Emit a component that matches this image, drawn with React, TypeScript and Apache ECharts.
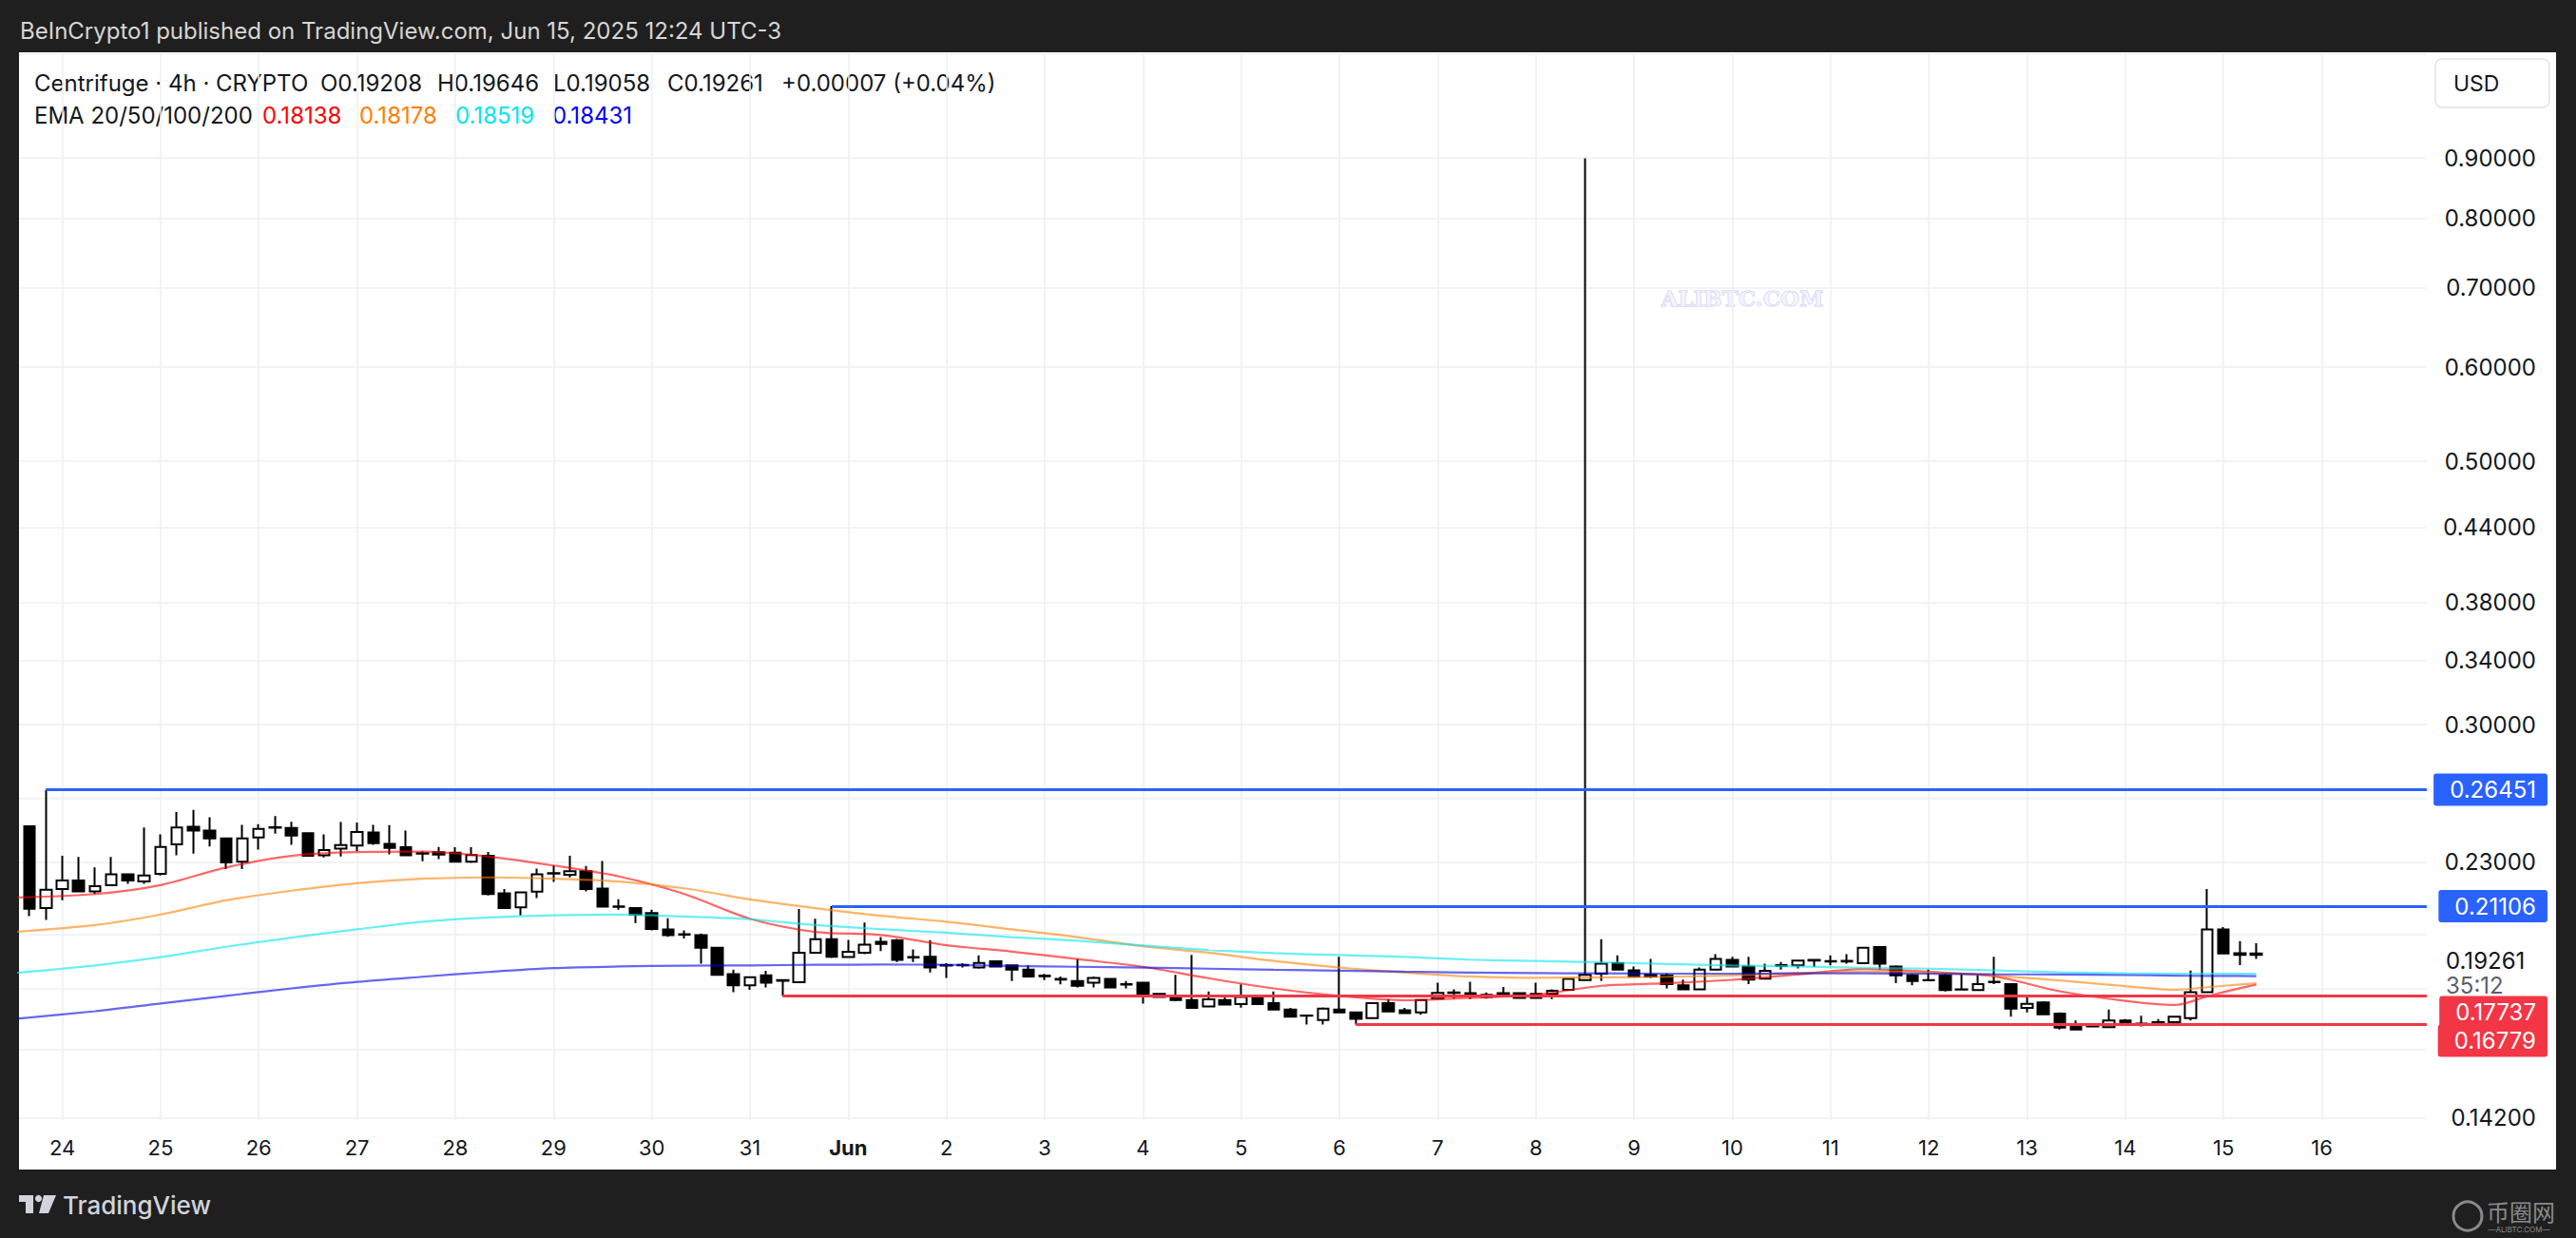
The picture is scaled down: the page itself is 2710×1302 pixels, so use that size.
import React, { useEffect, useRef } from 'react';
import * as echarts from 'echarts';

const W = 2710;
const H = 1302;
const FONT = 'Inter, "Noto Sans", "Liberation Sans", sans-serif';

// ---- axes ----
const DAY_LABELS = ['24', '25', '26', '27', '28', '29', '30', '31', 'Jun', '2', '3', '4', '5', '6', '7', '8', '9', '10', '11', '12', '13', '14', '15', '16'];
const DAY_TICKS_H = DAY_LABELS.map((_, k) => k * 24); // hours since May 24 00:00
const X_MIN = -10.57;
const X_MAX = 577.65;
const Y_MIN = 0.13945;
const Y_MAX = 1.1002;

const GRID_VALUES = [1.1, 0.9, 0.8, 0.7, 0.6, 0.5, 0.44, 0.38, 0.34, 0.3, 0.26, 0.23, 0.205, 0.18, 0.16, 0.142];
const GRID_LABELS = ['', '0.90000', '0.80000', '0.70000', '0.60000', '0.50000', '0.44000', '0.38000', '0.34000', '0.30000', '', '0.23000', '', '', '', '0.14200'];

// ---- candles (4h), first candle = May 23 16:00 ----
const FIRST_CANDLE_H = -8;
const STEP_H = 4;
// [open, high, low, close]
const CANDLES: number[][] = [
  [0.2464, 0.2466, 0.2070, 0.2100], [0.2103, 0.26451, 0.2055, 0.2179],
  [0.2182, 0.2327, 0.2135, 0.2219], [0.2219, 0.2322, 0.2170, 0.2172], [0.2172, 0.2275, 0.2161, 0.2194],
  [0.2198, 0.2322, 0.2197, 0.2245], [0.2245, 0.2247, 0.2204, 0.2219], [0.2215, 0.2459, 0.2204, 0.2240],
  [0.2247, 0.2426, 0.2240, 0.2367], [0.2380, 0.2533, 0.2330, 0.2459], [0.2462, 0.2544, 0.2337, 0.2444],
  [0.2444, 0.2508, 0.2370, 0.2407], [0.2407, 0.2407, 0.2268, 0.2298], [0.2301, 0.2471, 0.2268, 0.2407],
  [0.2411, 0.2474, 0.2356, 0.2452], [0.2458, 0.2513, 0.2429, 0.2460], [0.2456, 0.2486, 0.2377, 0.2420],
  [0.2432, 0.2432, 0.2324, 0.2327], [0.2330, 0.2426, 0.2320, 0.2353], [0.2360, 0.2485, 0.2324, 0.2376],
  [0.2374, 0.2482, 0.2348, 0.2437], [0.2435, 0.2471, 0.2377, 0.2385], [0.2382, 0.2470, 0.2334, 0.2363],
  [0.2366, 0.2444, 0.2327, 0.2330], [0.2339, 0.2348, 0.2303, 0.2337], [0.2344, 0.2367, 0.2313, 0.2333],
  [0.2341, 0.2366, 0.2298, 0.2301], [0.2301, 0.2366, 0.2296, 0.2331], [0.2327, 0.2345, 0.2155, 0.2161],
  [0.2164, 0.2182, 0.2099, 0.2103], [0.2106, 0.2170, 0.2073, 0.2168], [0.2171, 0.2270, 0.2144, 0.2245],
  [0.2248, 0.2284, 0.2212, 0.2250], [0.2243, 0.2327, 0.2232, 0.2259], [0.2259, 0.2282, 0.2172, 0.2182],
  [0.2184, 0.2304, 0.2106, 0.2109], [0.2110, 0.2139, 0.2096, 0.2108], [0.2103, 0.2103, 0.2043, 0.2077],
  [0.2083, 0.2096, 0.2014, 0.2020], [0.2018, 0.2062, 0.1989, 0.1996], [0.1999, 0.2014, 0.1983, 0.1997],
  [0.1996, 0.2002, 0.1888, 0.1947], [0.1947, 0.1950, 0.1845, 0.1848], [0.1850, 0.1867, 0.1787, 0.1811],
  [0.1811, 0.1842, 0.1795, 0.1839], [0.1846, 0.1862, 0.1803, 0.1820], [0.1829, 0.1831, 0.17737, 0.1827],
  [0.1822, 0.2099, 0.1820, 0.1929], [0.1929, 0.2060, 0.1926, 0.1980], [0.1980, 0.21106, 0.1909, 0.1914],
  [0.1913, 0.1977, 0.1909, 0.1932], [0.1929, 0.2045, 0.1923, 0.1959], [0.1970, 0.1988, 0.1935, 0.1962],
  [0.1975, 0.1981, 0.1894, 0.1902], [0.1913, 0.1941, 0.1894, 0.1911], [0.1914, 0.1976, 0.1856, 0.1874],
  [0.1883, 0.1890, 0.1837, 0.1881], [0.1882, 0.1890, 0.1874, 0.1884], [0.1874, 0.1919, 0.1870, 0.1891],
  [0.1897, 0.1897, 0.1874, 0.1878], [0.1882, 0.1882, 0.1826, 0.1867], [0.1867, 0.1882, 0.1842, 0.1842],
  [0.1845, 0.1851, 0.1829, 0.1843], [0.1831, 0.1842, 0.1814, 0.1833], [0.1826, 0.1906, 0.1803, 0.1809],
  [0.1820, 0.1842, 0.1803, 0.1837], [0.1833, 0.1833, 0.1800, 0.1803], [0.1815, 0.1826, 0.1800, 0.1813],
  [0.1820, 0.1820, 0.1748, 0.1781], [0.1781, 0.1781, 0.1768, 0.1770], [0.1770, 0.1848, 0.1756, 0.1760],
  [0.1760, 0.1921, 0.1731, 0.1733], [0.1738, 0.1789, 0.1738, 0.1762], [0.1760, 0.1776, 0.1741, 0.1744],
  [0.1746, 0.1814, 0.1734, 0.1770], [0.1773, 0.1773, 0.1746, 0.1746], [0.1749, 0.1789, 0.1728, 0.1728],
  [0.1728, 0.1733, 0.1704, 0.1704], [0.1708, 0.1711, 0.1678, 0.1707], [0.1693, 0.1735, 0.1678, 0.1731],
  [0.1728, 0.1914, 0.1715, 0.1718], [0.1718, 0.1718, 0.16779, 0.1697], [0.1699, 0.1752, 0.1699, 0.1749],
  [0.1749, 0.1763, 0.1718, 0.1721], [0.1725, 0.1733, 0.1716, 0.1716], [0.1718, 0.1763, 0.1710, 0.1760],
  [0.1765, 0.1820, 0.1763, 0.1784], [0.1784, 0.1797, 0.1765, 0.1786], [0.1781, 0.1823, 0.1763, 0.1783],
  [0.1778, 0.1786, 0.1765, 0.1770], [0.1783, 0.1805, 0.1770, 0.1773], [0.1783, 0.1783, 0.1767, 0.1767],
  [0.1781, 0.1820, 0.1767, 0.1767], [0.1781, 0.1797, 0.1763, 0.1792], [0.1795, 0.1837, 0.1792, 0.1833],
  [0.1829, 0.8990, 0.1826, 0.1848], [0.1852, 0.1980, 0.1826, 0.1888], [0.1890, 0.1919, 0.1867, 0.1867],
  [0.1864, 0.1878, 0.1842, 0.1842], [0.1848, 0.1906, 0.1837, 0.1842], [0.1845, 0.1853, 0.1800, 0.1815],
  [0.1811, 0.1831, 0.1797, 0.1797], [0.1797, 0.1874, 0.1797, 0.1867], [0.1867, 0.1923, 0.1867, 0.1906],
  [0.1902, 0.1914, 0.1876, 0.1878], [0.1878, 0.1914, 0.1815, 0.1831], [0.1834, 0.1888, 0.1831, 0.1862],
  [0.1880, 0.1894, 0.1867, 0.1883], [0.1882, 0.1900, 0.1871, 0.1900], [0.1900, 0.1902, 0.1876, 0.1902],
  [0.1898, 0.1919, 0.1882, 0.1896], [0.1896, 0.1923, 0.1888, 0.1899], [0.1890, 0.1950, 0.1888, 0.1947],
  [0.1950, 0.1953, 0.1867, 0.1888], [0.1878, 0.1882, 0.1818, 0.1846], [0.1846, 0.1851, 0.1811, 0.1826],
  [0.1829, 0.1867, 0.1826, 0.1828], [0.1846, 0.1851, 0.1789, 0.1794], [0.1797, 0.1851, 0.1794, 0.1796],
  [0.1794, 0.1848, 0.1794, 0.1815], [0.1823, 0.1914, 0.1815, 0.1822], [0.1815, 0.1815, 0.1704, 0.1731],
  [0.1733, 0.1770, 0.1718, 0.1747], [0.1752, 0.1756, 0.1710, 0.1712], [0.1714, 0.1718, 0.1662, 0.1668],
  [0.1672, 0.1691, 0.1662, 0.1662], [0.1672, 0.1678, 0.1670, 0.1673], [0.1670, 0.1728, 0.1670, 0.1691],
  [0.1691, 0.1696, 0.1678, 0.1678], [0.1680, 0.1707, 0.1672, 0.1681], [0.1684, 0.1696, 0.1678, 0.1686],
  [0.1686, 0.1707, 0.1678, 0.1704], [0.1699, 0.1863, 0.1691, 0.1787], [0.1787, 0.2182, 0.1787, 0.2018],
  [0.2018, 0.2027, 0.1926, 0.1926], [0.1927, 0.1973, 0.1883, 0.1921], [0.19208, 0.19646, 0.19058, 0.19261],
];

// ---- EMAs at these candle indices (0 = May 24 00:00) ----
const EMA_INDEX = [-3, 2, 6, 10, 14, 18, 22, 26, 30, 34, 38, 42, 46, 50, 54, 58, 62, 66, 70, 74, 78, 82, 86, 90, 94, 98, 102, 106, 110, 114, 118, 122, 126, 129, 131, 132, 134];
const EMA20 = [0.2146, 0.2161, 0.2199, 0.2275, 0.2327, 0.2344, 0.2346, 0.2324, 0.2284, 0.2236, 0.2161, 0.2060, 0.2008, 0.1996, 0.1957, 0.1933, 0.1905, 0.1877, 0.1836, 0.1800, 0.1774, 0.1759, 0.1767, 0.1778, 0.1809, 0.1818, 0.1830, 0.1849, 0.1869, 0.1859, 0.1842, 0.1790, 0.1757, 0.1743, 0.1772, 0.1787, 0.18138];
const EMA50 = [0.2008, 0.2035, 0.2077, 0.2135, 0.2175, 0.2207, 0.2226, 0.2232, 0.2226, 0.2214, 0.2185, 0.2139, 0.2103, 0.2072, 0.2048, 0.2018, 0.1988, 0.1953, 0.1929, 0.1898, 0.1874, 0.1856, 0.1842, 0.1837, 0.1839, 0.1841, 0.1846, 0.1854, 0.1859, 0.1856, 0.1845, 0.1828, 0.1808, 0.1795, 0.1804, 0.1809, 0.18178];
const EMA100 = [0.1854, 0.1882, 0.1912, 0.1951, 0.1986, 0.2018, 0.2048, 0.2065, 0.2074, 0.2077, 0.2069, 0.2058, 0.2035, 0.2019, 0.2005, 0.1988, 0.1974, 0.1956, 0.1939, 0.1927, 0.1920, 0.1913, 0.1903, 0.1898, 0.1893, 0.1887, 0.1882, 0.1878, 0.1873, 0.1870, 0.1864, 0.1857, 0.1853, 0.1852, 0.1852, 0.1852, 0.18519];
const EMA200 = [0.1696, 0.1722, 0.1748, 0.1774, 0.1800, 0.1823, 0.1841, 0.1858, 0.1872, 0.1878, 0.1881, 0.1882, 0.1884, 0.1885, 0.1884, 0.1880, 0.1877, 0.1874, 0.1870, 0.1866, 0.1863, 0.1859, 0.1856, 0.1854, 0.1853, 0.1852, 0.1852, 0.1853, 0.1853, 0.1852, 0.1850, 0.1849, 0.1847, 0.1845, 0.1844, 0.1844, 0.18431];
const EMA_COLORS = ['rgba(255,0,0,0.6)', 'rgba(255,128,0,0.6)', 'rgba(0,230,240,0.6)', 'rgba(0,0,230,0.6)'];
const EMA_TEXT_COLORS = ['#ff0000', '#ff7f00', '#00e5ee', '#0000ee'];

// ---- drawn levels ----
const LEVELS = [0.26451, 0.21106, 0.17737, 0.16779];
const LEVEL_START = [-1, 47, 44, 79]; // candle index where each ray starts
const LEVEL_COLORS = ['#2962ff', '#2962ff', '#f23645', '#f23645'];
const LAST_PRICE = 0.19261;
const COUNTDOWN = '35:12';

const LEGEND1 = [
  ['Centrifuge · 4h · CRYPTO', 36], ['O0.19208', 337], ['H0.19646', 460], ['L0.19058', 582], ['C0.19261', 702], ['+0.00007 (+0.04%)', 822],
];
const LEGEND2_LABEL = 'EMA 20/50/100/200';
const LEGEND2_VALUES = ['0.18138', '0.18178', '0.18519', '0.18431'];
const LEGEND2_X = [276, 378, 479, 581];

function buildOption() {
  const candleData = CANDLES.map((c, k) => [FIRST_CANDLE_H + k * STEP_H, c[0], c[3], c[2], c[1]]);
  const emaSeries = [EMA20, EMA50, EMA100, EMA200].map((vals, s) => ({
    type: 'line',
    name: 'EMA' + s,
    data: EMA_INDEX.map((idx, k) => [idx * STEP_H, vals[k]]),
    showSymbol: false,
    symbol: 'none',
    smooth: 0.3,
    z: 4,
    silent: true,
    lineStyle: { color: EMA_COLORS[s], width: 2.2 },
  }));

  const gridMarks: any[] = [
    ...GRID_VALUES.map((v, k) => ({
      yAxis: v,
      label: { show: GRID_LABELS[k] !== '', formatter: GRID_LABELS[k] },
    })),
    ...DAY_TICKS_H.map((h) => ({ xAxis: h, label: { show: false } })),
  ];

  const levelMarks: any[] = [
    ...LEVELS.map((v, k) => [
      {
        coord: [LEVEL_START[k] * STEP_H, v],
        lineStyle: { color: LEVEL_COLORS[k], width: 3, type: 'solid' },
        label: {
          show: true,
          formatter: v.toFixed(5),
          position: 'end',
          distance: 127,
          align: 'right',
          verticalAlign: k >= 2 ? 'top' : 'middle',
          backgroundColor: LEVEL_COLORS[k],
          color: '#ffffff',
          padding: [5, 12, 5, 17],
          lineHeight: 24,
          borderRadius: 3,
          fontSize: 24,
          fontFamily: FONT,
        },
      },
      { coord: [X_MAX, v] },
    ]),
    {
      yAxis: LAST_PRICE,
      lineStyle: { color: 'rgba(0,0,0,0)', width: 0 },
      label: { show: true, formatter: LAST_PRICE.toFixed(5), position: 'end', distance: 20, align: 'left', verticalAlign: 'middle', color: '#131722', fontSize: 24, fontFamily: FONT },
    },
    {
      yAxis: LAST_PRICE,
      lineStyle: { color: 'rgba(0,0,0,0)', width: 0 },
      label: { show: true, formatter: COUNTDOWN, position: 'end', distance: 20, align: 'left', verticalAlign: 'top', padding: [14, 0, 0, 0], lineHeight: 24, color: '#5d606b', fontSize: 24, fontFamily: FONT },
    },
  ];
  (emaSeries[0] as any).markLine = {
    silent: true,
    symbol: ['none', 'none'],
    z: 10,
    animation: false,
    emphasis: { disabled: true },
    data: levelMarks,
  };

  const txt = (text: string, x: number, y: number, fill: string, fontSize: number, extra: any = {}) => ({
    type: 'text',
    x,
    y,
    silent: true,
    style: { text, fill, fontSize, fontFamily: FONT, align: 'left', verticalAlign: 'middle', ...extra },
  });

  const graphics: any[] = [
    txt('BeInCrypto1 published on TradingView.com, Jun 15, 2025 12:24 UTC-3', 21, 32, '#d6d6d6', 24),
    ...LEGEND1.map(([t, x]) => txt(t as string, x as number, 87, '#131722', 24)),
    txt(LEGEND2_LABEL, 36, 121, '#131722', 24),
    ...LEGEND2_VALUES.map((t, k) => txt(t, LEGEND2_X[k], 121, EMA_TEXT_COLORS[k], 24)),
    { type: 'rect', shape: { x: 2562, y: 62, width: 120, height: 51, r: 7 }, style: { fill: '#ffffff', stroke: '#e0e3eb', lineWidth: 1.5 }, silent: true },
    txt('USD', 2581, 88, '#131722', 23),
    txt('ALIBTC.COM', 1833, 313, 'rgba(240,240,255,0.7)', 23, { align: 'center', fontFamily: '"DejaVu Serif", serif', fontWeight: 'bold', stroke: 'rgba(185,185,235,0.7)', lineWidth: 1 }),
    // TradingView footer logo
    { type: 'polygon', shape: { points: [[20, 1257], [35, 1257], [35, 1276], [27, 1276], [27, 1264], [20, 1264]] }, style: { fill: '#d1d4dc' }, silent: true },
    { type: 'circle', shape: { cx: 40.5, cy: 1260.5, r: 3.6 }, style: { fill: '#d1d4dc' }, silent: true },
    { type: 'polygon', shape: { points: [[46, 1257], [59, 1257], [51, 1276], [41, 1276]] }, style: { fill: '#d1d4dc' }, silent: true },
    txt('TradingView', 66, 1267, '#d1d4dc', 26, { fontWeight: 500 }),
    // bottom-right mark
    { type: 'circle', shape: { cx: 2596, cy: 1279, r: 15 }, style: { fill: 'none', stroke: '#8a8a8a', lineWidth: 3 }, silent: true },
    txt('币圈网', 2616, 1273, '#8a8a8a', 24, { fontFamily: '"Noto Sans CJK SC", sans-serif' }),
    txt('—ALIBTC.COM—', 2650, 1293, '#8a8a8a', 8, { align: 'center' }),
  ];

  return {
    animation: false,
    backgroundColor: 'transparent',
    textStyle: { fontFamily: FONT },
    grid: { left: 20, right: 157, top: 57, bottom: 124, containLabel: false },
    xAxis: {
      type: 'value',
      min: X_MIN,
      max: X_MAX,
      axisLine: { show: false },
      axisTick: { show: false, customValues: DAY_TICKS_H },
      splitLine: { show: false },
      axisLabel: {
        customValues: DAY_TICKS_H,
        color: '#131722',
        fontSize: 22,
        fontFamily: FONT,
        margin: 18,
        formatter: (v: number) => {
          const lab = DAY_LABELS[Math.round(v / 24)] ?? '';
          return lab === 'Jun' ? '{b|Jun}' : lab;
        },
        rich: { b: { fontWeight: 'bold', fontSize: 22, color: '#131722', fontFamily: FONT } },
      },
    },
    yAxis: {
      type: 'log',
      logBase: 10,
      min: Y_MIN,
      max: Y_MAX,
      position: 'right',
      axisLine: { show: false },
      axisTick: { show: false },
      axisLabel: { show: false },
      splitLine: { show: false },
    },
    series: [
      {
        type: 'candlestick',
        name: 'Centrifuge',
        data: candleData,
        encode: { x: 0, y: [1, 2, 3, 4] },
        barWidth: 12,
        z: 3,
        silent: true,
        itemStyle: { color: '#ffffff', color0: '#000000', borderColor: '#000000', borderColor0: '#000000', borderWidth: 2 },
        markLine: {
          silent: true,
          symbol: ['none', 'none'],
          z: 1,
          animation: false,
          emphasis: { disabled: true },
          lineStyle: { color: '#eeeff2', width: 1.5, type: 'solid' },
          label: { position: 'end', distance: 115, align: 'right', color: '#131722', fontSize: 24, fontFamily: FONT },
          data: gridMarks,
        },
      },
      ...emaSeries,
    ],
    graphic: { elements: graphics },
  };
}

export default function App() {
  const ref = useRef<HTMLDivElement>(null);
  useEffect(() => {
    if (!ref.current) return;
    const chart = echarts.init(ref.current, null, { renderer: 'svg', width: W, height: H });
    chart.setOption(buildOption() as any);
    return () => chart.dispose();
  }, []);
  return (
    <div style={{ position: 'fixed', left: 0, top: 0, width: W, height: H, background: '#1f1f1f', overflow: 'hidden' }}>
      <div style={{ position: 'absolute', left: 20, top: 55, width: 2669, height: 1175, background: '#ffffff' }} />
      <div ref={ref} style={{ position: 'absolute', left: 0, top: 0, width: W, height: H }} />
    </div>
  );
}
